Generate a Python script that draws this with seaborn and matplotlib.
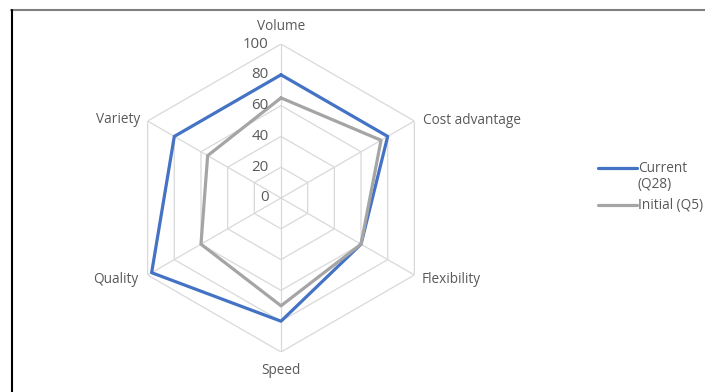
import numpy as np
import pandas as pd
import matplotlib
matplotlib.use("Agg")
import matplotlib.pyplot as plt
from matplotlib.lines import Line2D
import seaborn as sns

# data
categories = ["Volume", "Cost advantage", "Flexibility", "Speed", "Quality", "Variety"]
current = [80, 80, 60, 80, 97, 80]
initial = [65, 75, 60, 70, 60, 55]
series_names = ["Current (Q28)", "Initial (Q5)"]
rticks = [0, 20, 40, 60, 80, 100]

sns.set_theme(style="white")
plt.rcParams["font.family"] = ["Open Sans", "DejaVu Sans"]

blue, gray = "#4472C4", "#A5A5A5"
grid_c = "#D9D9D9"
txt_c = "#595959"

n = len(categories)
ang = np.linspace(0, 2*np.pi, n, endpoint=False)
ang_c = np.append(ang, 2*np.pi)

rows = []
for name, vals in zip(series_names, [current, initial]):
    for a, v in zip(ang_c, vals + vals[:1]):
        rows.append({"angle": a, "value": v, "series": name})
df = pd.DataFrame(rows)

fig = plt.figure(figsize=(7.05, 3.92), dpi=100)
W, H = 705, 392
cx, cy, R = 281, 198, 154
ax = fig.add_axes([(cx-R)/W, (H-cy-R)/H, 2*R/W, 2*R/H], projection="polar")
ax.set_theta_zero_location("N")
ax.set_theta_direction(-1)
ax.set_ylim(0, 100)
ax.grid(False)
ax.spines["polar"].set_visible(False)
ax.set_xticks([])
ax.set_yticks([])
ax.patch.set_alpha(0)

# hexagon grid + spokes
for r in rticks[1:]:
    ax.plot(ang_c, [r]*(n+1), color=grid_c, lw=0.9, zorder=1)
for a in ang:
    ax.plot([a, a], [0, 100], color=grid_c, lw=0.9, zorder=1)

sns.lineplot(data=df, x="angle", y="value", hue="series", palette=[blue, gray],
             sort=False, estimator=None, lw=2.3, ax=ax, legend=False, zorder=3)
ax.set_xlabel("")
ax.set_ylabel("")

fs = 9.8
for r in rticks:
    ax.annotate(str(r), xy=(0, r), xytext=(-9, 0), textcoords="offset points",
                fontsize=10.8, color=txt_c, ha="right", va="center")

label_pos = [
    (0, 100, (0, 7), "center", "bottom"),
    (ang[1], 100, (6, 0), "left", "center"),
    (ang[2], 100, (5, -3), "left", "center"),
    (ang[3], 100, (0, -8), "center", "top"),
    (ang[4], 100, (-7, -3), "right", "center"),
    (ang[5], 100, (-5, 1), "right", "center"),
]
for cat, (a, r, off, ha, va) in zip(categories, label_pos):
    ax.annotate(cat, xy=(a, r), xytext=off, textcoords="offset points",
                fontsize=fs, color=txt_c, ha=ha, va=va, annotation_clip=False)

# legend
for y, c in [(168, blue), (205, gray)]:
    fig.add_artist(Line2D([598/W, 637/W], [1-y/H, 1-y/H], color=c, lw=2.3))
for y, lab in [(168, "Current"), (185, "(Q28)"), (205, "Initial (Q5)")]:
    fig.text(638/W, 1-y/H, lab, fontsize=fs, color=txt_c, ha="left", va="center")

# frame edges seen in the screenshot
fig.add_artist(Line2D([11/W, 1], [1-10/H, 1-10/H], color="#7f7f7f", lw=1.5))
fig.add_artist(Line2D([11.5/W, 11.5/W], [0, 1-10/H], color="black", lw=1.5))

fig.savefig("out.png", dpi=100)
